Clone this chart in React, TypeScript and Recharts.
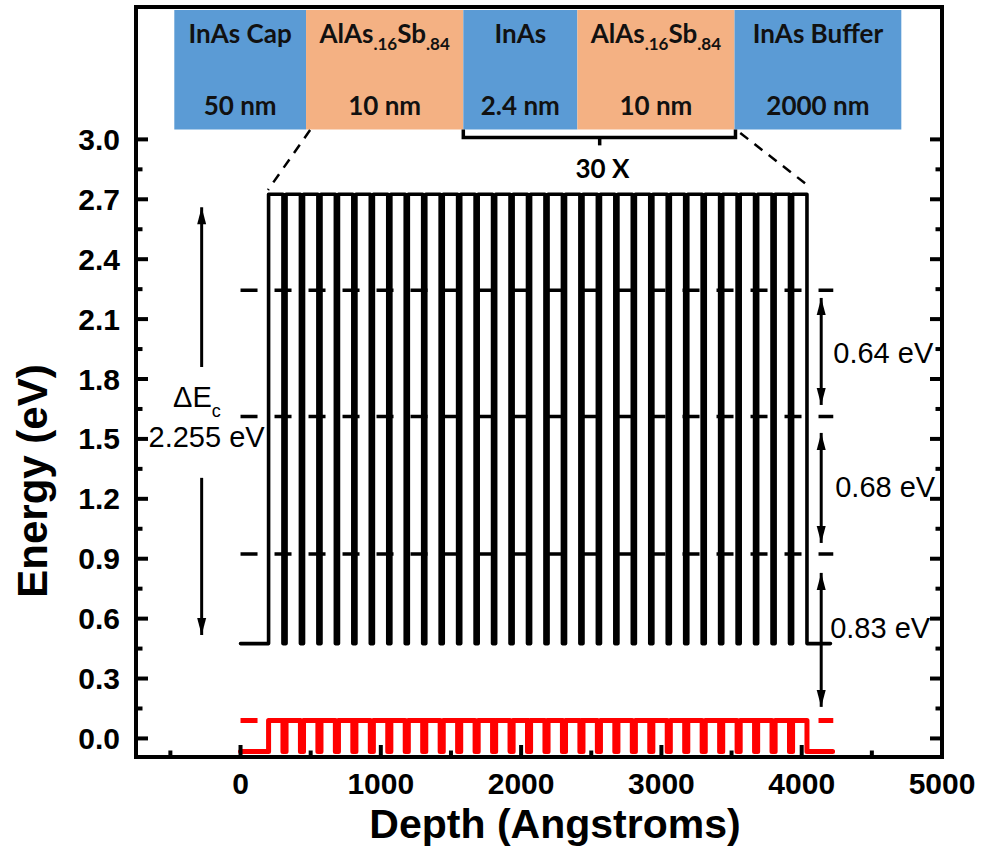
import React from 'react';
import { ComposedChart, Line, Scatter, XAxis, YAxis, ReferenceArea } from 'recharts';

// axis ticks
const xMajorTicks = [0, 1000, 2000, 3000, 4000, 5000];
const xMinorTicks = [-500, 500, 1500, 2500, 3500, 4500];
const yMajorTicks = [0, 0.3, 0.6, 0.9, 1.2, 1.5, 1.8, 2.1, 2.4, 2.7, 3.0];
const yMinorTicks = [0.15, 0.45, 0.75, 1.05, 1.35, 1.65, 1.95, 2.25, 2.55, 2.85];

// layer stack in Angstroms
const capEnd = 200;
const barrierWidth = 102.5;
const wellWidth = 22;
const periods = 30;
const cbTailEnd = 4205;
const vbTailEnd = 4220;

// band edges (eV)
const cbLow = 0.475;
const cbHigh = 2.725;
const vbLow = -0.065;
const vbHigh = 0.09;

// confined levels (eV)
const levelEnergies = [2.245, 1.612, 0.924];
const redLevel = 0.09;
const levelEnd = 4225;

// top layer boxes
const boxEdges = [-472, 467, 1588, 2401, 3521, 4710];
const boxNames = [
  [['InAs Cap', false]],
  [['AlAs', false], ['.16', true], ['Sb', false], ['.84', true]],
  [['InAs', false]],
  [['AlAs', false], ['.16', true], ['Sb', false], ['.84', true]],
  [['InAs Buffer', false]],
] as [string, boolean][][];
const boxThickness = ['50 nm', '10 nm', '2.4 nm', '10 nm', '2000 nm'];
const boxColors = ['#5B9BD5', '#F4B183', '#5B9BD5', '#F4B183', '#5B9BD5'];
const boxBottom = 3.05;
const boxTop = 3.648;

const bracket = [
  { x: 1588, y: 3.05 },
  { x: 1588, y: 3.01 },
  { x: 3528, y: 3.01 },
  { x: 3528, y: 3.05 },
];
const bracketTick = [
  { x: 2560, y: 3.01 },
  { x: 2560, y: 2.97 },
];
const zoomLeft = [
  { x: 496, y: 3.047 },
  { x: 196, y: 2.747 },
];
const zoomRight = [
  { x: 3562, y: 3.032 },
  { x: 4039, y: 2.772 },
];

const arrowShafts = [
  { x: -277, from: 1.86, to: 2.66 },
  { x: -277, from: 1.305, to: 0.518 },
  { x: 4139, from: 2.206, to: 1.67 },
  { x: 4139, from: 1.53, to: 0.979 },
  { x: 4139, from: 0.829, to: 0.158 },
];
const arrowHeads = [
  { x: -277, y: 2.66, dir: 'up' },
  { x: -277, y: 0.518, dir: 'down' },
  { x: 4139, y: 2.206, dir: 'up' },
  { x: 4139, y: 1.67, dir: 'down' },
  { x: 4139, y: 1.53, dir: 'up' },
  { x: 4139, y: 0.979, dir: 'down' },
  { x: 4139, y: 0.829, dir: 'up' },
  { x: 4139, y: 0.158, dir: 'down' },
];

const notes = [
  { x: -481, y: 1.66, text: 'ΔE', sub: 'c', anchor: 'start' },
  { x: -242, y: 1.46, text: '2.255 eV', sub: '', anchor: 'middle' },
  { x: 4225, y: 1.88, text: '0.64 eV', sub: '', anchor: 'start' },
  { x: 4239, y: 1.209, text: '0.68 eV', sub: '', anchor: 'start' },
  { x: 4203, y: 0.503, text: '0.83 eV', sub: '', anchor: 'start' },
];
const repeatNote = [{ x: 2580, y: 2.806, text: '30 X' }];

function buildProfile(low: number, high: number, tailEnd: number) {
  const pts = [
    { x: 0, y: low },
    { x: capEnd, y: low },
    { x: capEnd, y: high },
  ];
  let s = capEnd;
  for (let i = 0; i <= periods; i++) {
    const e = s + barrierWidth;
    pts.push({ x: e, y: high });
    if (i < periods) {
      pts.push({ x: e, y: low });
      pts.push({ x: e + wellWidth, y: low });
      pts.push({ x: e + wellWidth, y: high });
      s = e + wellWidth;
    } else {
      pts.push({ x: e, y: low });
      pts.push({ x: tailEnd, y: low });
    }
  }
  return pts;
}

const cbProfile = buildProfile(cbLow, cbHigh, cbTailEnd);
const vbProfile = buildProfile(vbLow, vbHigh, vbTailEnd);
const levelLines = levelEnergies.map((e) => [
  { x: 0, y: e },
  { x: levelEnd, y: e },
]);
const redLevelLine = [
  { x: 0, y: redLevel },
  { x: levelEnd, y: redLevel },
];

const ARIAL = "'Liberation Sans', Arial, sans-serif";
const LATO = "Lato, 'Open Sans', sans-serif";
const axisStyle = { stroke: '#000', strokeWidth: 4, strokeLinecap: 'square' as const };

const isIn = (arr: number[], v: number) => arr.some((t) => Math.abs(t - v) < 1e-6);

const XTick = (props: any) => {
  const { x, y, payload } = props;
  const major = isIn(xMajorTicks, payload.value);
  return (
    <g>
      <line x1={x} x2={x} y1={y} y2={y - (major ? 12 : 6.5)} stroke="#000" strokeWidth={4} />
      {major && (
        <text x={x} y={y + 37} textAnchor="middle" fontFamily={ARIAL} fontWeight="bold" fontSize={30} fill="#000">
          {payload.value}
        </text>
      )}
    </g>
  );
};

const YTickLeft = (props: any) => {
  const { x, y, payload } = props;
  const major = isIn(yMajorTicks, payload.value);
  return (
    <g>
      <line x1={x} x2={x + (major ? 12 : 6.5)} y1={y} y2={y} stroke="#000" strokeWidth={4} />
      {major && (
        <text x={x - 16} y={y + 10.5} textAnchor="end" fontFamily={ARIAL} fontWeight="bold" fontSize={30} fill="#000">
          {Number(payload.value).toFixed(1)}
        </text>
      )}
    </g>
  );
};

const YTickRight = (props: any) => {
  const { x, y, payload } = props;
  const major = isIn(yMajorTicks, payload.value);
  return <line x1={x} x2={x - (major ? 12 : 6.5)} y1={y} y2={y} stroke="#000" strokeWidth={4} />;
};

const ArrowHead = (props: any) => {
  const { cx, cy, payload } = props;
  const s = payload.dir === 'up' ? 1 : -1;
  return <polygon points={`${cx},${cy} ${cx - 4.5},${cy + s * 17} ${cx + 4.5},${cy + s * 17}`} fill="#000" />;
};

const NoteText = (props: any) => {
  const { cx, cy, payload } = props;
  return (
    <text x={cx} y={cy} textAnchor={payload.anchor} fontFamily={ARIAL} fontSize={29} fill="#000">
      <tspan>{payload.text}</tspan>
      {payload.sub && (
        <tspan dy={10} fontSize={18}>
          {payload.sub}
        </tspan>
      )}
    </text>
  );
};

const RepeatText = (props: any) => {
  const { cx, cy, payload } = props;
  return (
    <text x={cx} y={cy} textAnchor="middle" fontFamily={LATO} fontWeight="bold" fontSize={26} fill="#000">
      {payload.text}
    </text>
  );
};

const boxLabel = (i: number) => (p: any) => {
  const vb = p.viewBox;
  const cx = vb.x + vb.width / 2;
  return (
    <g>
      <text x={cx} y={vb.y + 33} textAnchor="middle" fontFamily={LATO} fontWeight="bold" fontSize={26} fill="#111">
        {boxNames[i].map(([t, sub], k) => (
          <tspan key={k} dy={sub ? 7 : k > 0 ? -7 : 0} fontSize={sub ? 17 : 26}>
            {t}
          </tspan>
        ))}
      </text>
      <text x={cx} y={vb.y + 105} textAnchor="middle" fontFamily={LATO} fontWeight="bold" fontSize={26} fill="#111">
        {boxThickness[i]}
      </text>
    </g>
  );
};

export default function App() {
  const xTicks = [...xMinorTicks, ...xMajorTicks].sort((a, b) => a - b);
  const yTicks = [...yMinorTicks, ...yMajorTicks].sort((a, b) => a - b);
  const xDomain = [-745, 5000];
  const yDomain = [-0.093, 3.663];

  return (
    <div style={{ position: 'absolute', left: 0, top: 0, width: 982, height: 851, background: '#fff' }}>
      <ComposedChart width={982} height={851} margin={{ top: 6, right: 39, bottom: 0, left: 0 }}>
        <XAxis
          dataKey="x"
          type="number"
          domain={xDomain}
          allowDataOverflow
          ticks={xTicks}
          interval={0}
          tick={XTick}
          tickLine={false}
          tickSize={0}
          tickMargin={0}
          height={94}
          axisLine={axisStyle}
          label={(p: any) => (
            <text
              x={p.viewBox.x + p.viewBox.width / 2 + 16}
              y={p.viewBox.y + 81}
              textAnchor="middle"
              fontFamily={ARIAL}
              fontWeight="bold"
              fontSize={41}
              fill="#000"
            >
              Depth (Angstroms)
            </text>
          )}
        />
        <XAxis
          xAxisId="top"
          orientation="top"
          type="number"
          domain={xDomain}
          allowDataOverflow
          height={1}
          tick={false}
          tickLine={false}
          axisLine={axisStyle}
        />
        <YAxis
          dataKey="y"
          type="number"
          domain={yDomain}
          allowDataOverflow
          ticks={yTicks}
          interval={0}
          tick={YTickLeft}
          tickLine={false}
          tickSize={0}
          tickMargin={0}
          width={136}
          axisLine={axisStyle}
          label={(p: any) => {
            const lx = p.viewBox.x + 47;
            const ly = p.viewBox.y + 474;
            return (
              <text
                x={lx}
                y={ly}
                transform={`rotate(-90 ${lx} ${ly})`}
                textAnchor="middle"
                fontFamily={ARIAL}
                fontWeight="bold"
                fontSize={42}
                fill="#000"
              >
                Energy (eV)
              </text>
            );
          }}
        />
        <YAxis
          yAxisId="right"
          orientation="right"
          type="number"
          domain={yDomain}
          allowDataOverflow
          ticks={yTicks}
          interval={0}
          tick={YTickRight}
          tickLine={false}
          tickSize={0}
          tickMargin={0}
          width={1}
          axisLine={axisStyle}
        />

        {boxColors.map((c, i) => (
          <ReferenceArea
            key={`box-${i}`}
            x1={boxEdges[i]}
            x2={boxEdges[i + 1]}
            y1={boxBottom}
            y2={boxTop}
            fill={c}
            fillOpacity={1}
            stroke="none"
            ifOverflow="visible"
            label={boxLabel(i)}
          />
        ))}

        <Line data={vbProfile} dataKey="y" stroke="#FF0000" strokeWidth={5} strokeLinejoin="round" strokeLinecap="round" dot={false} activeDot={false} isAnimationActive={false} />
        <Line data={redLevelLine} dataKey="y" stroke="#FF0000" strokeWidth={5} strokeDasharray="17 17" dot={false} activeDot={false} isAnimationActive={false} />
        <Line data={cbProfile} dataKey="y" stroke="#000" strokeWidth={3.6} strokeLinejoin="round" strokeLinecap="round" dot={false} activeDot={false} isAnimationActive={false} />
        {levelLines.map((d, i) => (
          <Line key={`lvl-${i}`} data={d} dataKey="y" stroke="#000" strokeWidth={3.5} strokeDasharray="17 17" dot={false} activeDot={false} isAnimationActive={false} />
        ))}

        <Line data={bracket} dataKey="y" stroke="#000" strokeWidth={3.5} dot={false} activeDot={false} isAnimationActive={false} />
        <Line data={bracketTick} dataKey="y" stroke="#000" strokeWidth={3.5} dot={false} activeDot={false} isAnimationActive={false} />
        <Line data={zoomLeft} dataKey="y" stroke="#000" strokeWidth={2.5} strokeDasharray="10 8" dot={false} activeDot={false} isAnimationActive={false} />
        <Line data={zoomRight} dataKey="y" stroke="#000" strokeWidth={2.5} strokeDasharray="10 8" dot={false} activeDot={false} isAnimationActive={false} />

        {arrowShafts.map((a, i) => (
          <Line
            key={`shaft-${i}`}
            data={[
              { x: a.x, y: a.from },
              { x: a.x, y: a.to },
            ]}
            dataKey="y"
            stroke="#000"
            strokeWidth={3}
            dot={false}
            activeDot={false}
            isAnimationActive={false}
          />
        ))}
        <Scatter data={arrowHeads} shape={ArrowHead} isAnimationActive={false} />
        <Scatter data={notes} shape={NoteText} isAnimationActive={false} />
        <Scatter data={repeatNote} shape={RepeatText} isAnimationActive={false} />
      </ComposedChart>
    </div>
  );
}
